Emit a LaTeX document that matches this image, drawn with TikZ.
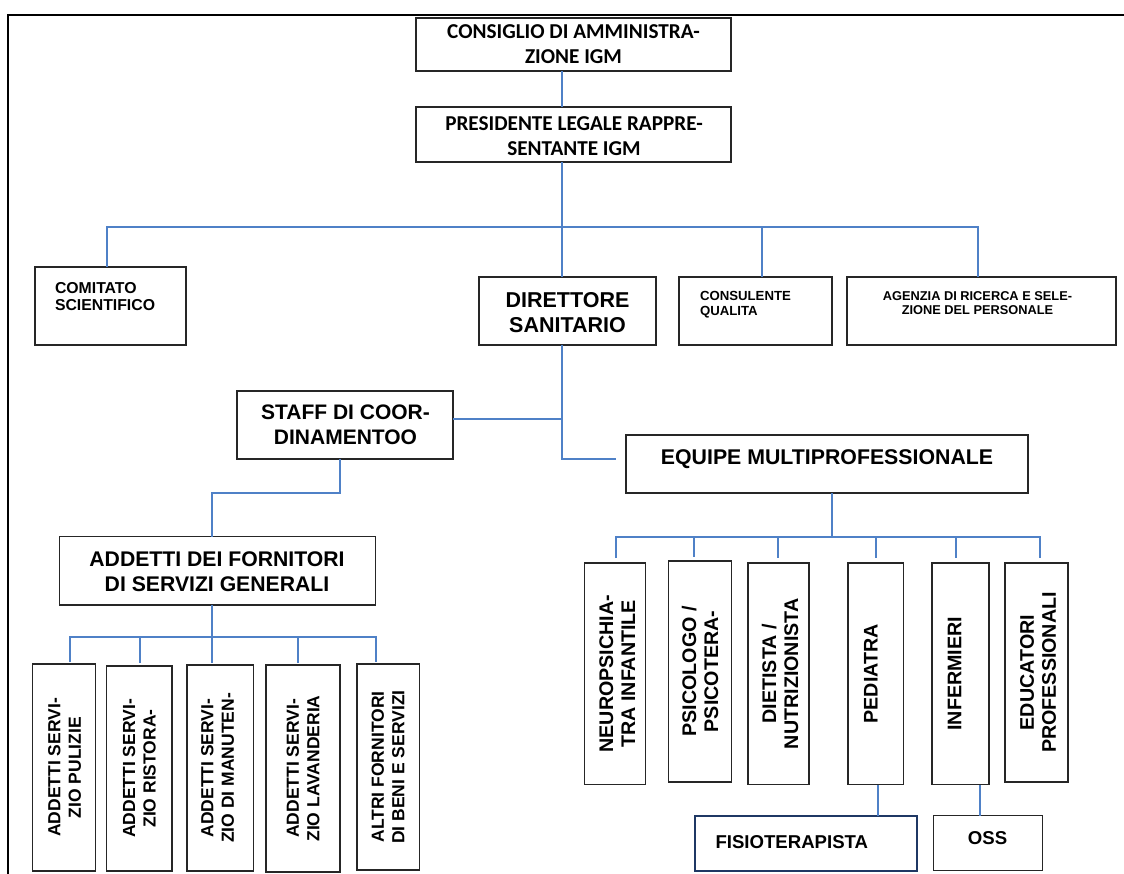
\documentclass[tikz,border=0pt]{standalone}
\usepackage{fontspec}
\setmainfont{Liberation Sans}
\newfontfamily\calibfont{Carlito}
\usetikzlibrary{fit,calc}
\definecolor{linkblue}{RGB}{79,129,199}
\definecolor{navyline}{RGB}{31,56,100}
\newcommand\fsz[2]{\fontsize{#1}{#2}\selectfont\bfseries}
\begin{document}
\begin{tikzpicture}[x=1pt,y=-1pt,
  box/.style={draw=black!85,line width=1.2pt,inner sep=0pt,outer sep=0pt},
  conn/.style={draw=linkblue,line width=1.3pt},
  txt/.style={inner sep=0pt,outer sep=0pt,align=center},
  ltxt/.style={inner sep=0pt,outer sep=0pt,align=left},
  vtxt/.style={inner sep=0pt,outer sep=0pt,align=center,rotate=90},
  lfont/.style={font=\fsz{17.5}{20.5}},
  rfont/.style={font=\fsz{19.7}{22}},
]
\useasboundingbox (0,0) rectangle (1124,874);
\fill[white] (0,0) rectangle (1124,874);
% frame
\draw[line width=2pt] (8,874) -- (8,15.5) -- (1124,15.5);

% boxes
\node[box,fit={(416,18)(731,71)}] (cda) {};
\node[box,fit={(416,107)(731,162)}] (pres) {};
\node[box,fit={(35,267)(186,345)}] (comitato) {};
\node[box,fit={(479,277)(656,345)}] (dir) {};
\node[box,fit={(679,277)(832,345)}] (cons) {};
\node[box,fit={(847,277)(1116,345)}] (agenzia) {};
\node[box,fit={(237,391)(453,459)}] (staff) {};
\node[box,fit={(626,435)(1028,493)}] (equipe) {};
\node[box,fit={(59.3,536.7)(375.7,605)}] (addetti) {};
\node[box,fit={(32.3,664)(95.7,871)}] (L1) {};
\node[box,fit={(106.7,666)(172,871)}] (L2) {};
\node[box,fit={(187,665)(253.3,871)}] (L3) {};
\node[box,fit={(266,665)(340,872)}] (L4) {};
\node[box,fit={(357,664)(419.3,870)}] (L5) {};
\node[box,fit={(584.6,563)(645.7,784.5)}] (R1) {};
\node[box,fit={(668.5,561)(731.5,782)}] (R2) {};
\node[box,fit={(748,563)(809,784.5)}] (R3) {};
\node[box,fit={(848,563)(903.5,784.5)}] (R4) {};
\node[box,fit={(932,563)(989,784.5)}] (R5) {};
\node[box,fit={(1005,563)(1068,782)}] (R6) {};
\node[box,draw=navyline,line width=2.2pt,fit={(695,815.6)(917,870.6)}] (fisio) {};
\node[box,fit={(933.5,815.6)(1042.6,870.6)}] (oss) {};

% texts
\node[txt,anchor=north,font=\calibfont\fsz{21.2}{25}] (cdat) at (573.5,25) {CONSIGLIO DI AMMINISTRA-\\ZIONE IGM};
\node[txt,anchor=north,font=\calibfont\fsz{21.2}{25}] (prest) at (574,117) {PRESIDENTE LEGALE RAPPRE-\\SENTANTE IGM};
\node[ltxt,anchor=north west,font=\fsz{15.8}{17.5}] (comitatot) at (55,282) {COMITATO\\SCIENTIFICO};
\node[txt,anchor=north,font=\fsz{21.5}{25}] (dirt) at (567.5,292) {DIRETTORE\\SANITARIO};
\node[ltxt,anchor=north west,font=\fsz{13.2}{15}] (const) at (700,291) {CONSULENTE\\QUALITA};
\node[txt,anchor=north,font=\fsz{12.8}{14}] (agenziat) at (977.5,292) {AGENZIA DI RICERCA E SELE-\\ZIONE DEL PERSONALE};
\node[txt,anchor=north,font=\fsz{21}{25}] (stafft) at (345.5,405) {STAFF DI COOR-\\DINAMENTOO};
\node[txt,anchor=north,font=\fsz{21.3}{25}] (equipet) at (827,450) {EQUIPE MULTIPROFESSIONALE};
\node[txt,anchor=north,font=\fsz{21.2}{25}] (addettit) at (217,551.7) {ADDETTI DEI FORNITORI\\DI SERVIZI GENERALI};
\node[ltxt,anchor=north west,font=\fsz{18.6}{22}] (fisiot) at (715.5,836) {FISIOTERAPISTA};
\node[txt,anchor=north,font=\fsz{18.6}{22}] (osst) at (987.5,832) {OSS};

\node[vtxt,lfont] (L1t) at ($(L1)+(0.5,0)$) {ADDETTI SERVI-\\ZIO PULIZIE};
\node[vtxt,lfont] (L2t) at (L2) {ADDETTI SERVI-\\ZIO RISTORA-};
\node[vtxt,lfont] (L3t) at ($(L3)+(-2.5,0)$) {ADDETTI SERVI-\\ZIO DI MANUTEN-};
\node[vtxt,lfont] (L4t) at (L4) {ADDETTI SERVI-\\ZIO LAVANDERIA};
\node[vtxt,lfont] (L5t) at (L5) {ALTRI FORNITORI\\DI BENI E SERVIZI};
\node[vtxt,rfont] (R1t) at ($(R1)+(2,0)$) {NEUROPSICHIA-\\TRA INFANTILE};
\node[vtxt,rfont] (R2t) at (R2) {PSICOLOGO /\\PSICOTERA-};
\node[vtxt,rfont] (R3t) at ($(R3)+(1.5,0)$) {DIETISTA /\\NUTRIZIONISTA};
\node[vtxt,rfont] (R4t) at ($(R4)+(-5,0)$) {PEDIATRA};
\node[vtxt,rfont] (R5t) at ($(R5)+(-6,0)$) {INFERMIERI};
\node[vtxt,rfont] (R6t) at ($(R6)+(1.5,0)$) {EDUCATORI\\PROFESSIONALI};

% junction coordinates
\coordinate (bl) at (107,227);
\coordinate (bd) at (562,227);
\coordinate (bc) at (762,227);
\coordinate (bg) at (978,227);
\coordinate (j1) at (562,419);
\coordinate (j2) at (562,459);
\coordinate (eqin) at (616,459);
\coordinate (s1) at (340,493);
\coordinate (s2) at (212,493);
\coordinate (ab1) at (70,637);
\coordinate (ab2) at (140,637);
\coordinate (ab3) at (212,637);
\coordinate (ab4) at (298,637);
\coordinate (ab5) at (376,637);
\coordinate (eb0) at (832,537);
\coordinate (eb1) at (616,537);
\coordinate (eb2) at (694,537);
\coordinate (eb3) at (778,537);
\coordinate (eb4) at (876,537);
\coordinate (eb5) at (956,537);
\coordinate (eb6) at (1040,537);
\coordinate (pf) at (878,800);
\coordinate (po) at (980,800);

% connectors
\draw[conn] (cda.south -| bd) -- (pres.north -| bd);
\draw[conn] (pres.south -| bd) -- (dir.north -| bd);
\draw[conn] (comitato.north -| bl) -- (bl) -- (bg) -- (agenzia.north -| bg);
\draw[conn] (bc) -- (cons.north -| bc);
\draw[conn] (dir.south -| bd) -- (j2) -- (eqin);
\draw[conn] (staff.east |- j1) -- (j1);
\draw[conn] (staff.south -| s1) -- (s1) -- (s2) -- (addetti.north -| s2);
\draw[conn] (addetti.south -| ab3) -- (ab3);
\draw[conn,shorten <=2pt,shorten >=2pt] (L1.north -| ab1) -- (ab1) -- (ab5) -- (L5.north -| ab5);
\draw[conn,shorten >=3pt] (ab2) -- (L2.north -| ab2);
\draw[conn,shorten >=2pt] (ab3) -- (L3.north -| ab3);
\draw[conn,shorten >=2pt] (ab4) -- (L4.north -| ab4);
\draw[conn] (equipe.south -| eb0) -- (eb0);
\draw[conn,shorten <=5pt,shorten >=5pt] (R1.north -| eb1) -- (eb1) -- (eb6) -- (R6.north -| eb6);
\draw[conn,shorten >=4pt] (eb2) -- (R2.north -| eb2);
\draw[conn,shorten >=5pt] (eb3) -- (R3.north -| eb3);
\draw[conn,shorten >=5pt] (eb4) -- (R4.north -| eb4);
\draw[conn,shorten >=5pt] (eb5) -- (R5.north -| eb5);
\draw[conn] (R4.south -| pf) -- (fisio.north -| pf);
\draw[conn] (R5.south -| po) -- (oss.north -| po);
\end{tikzpicture}
\end{document}
